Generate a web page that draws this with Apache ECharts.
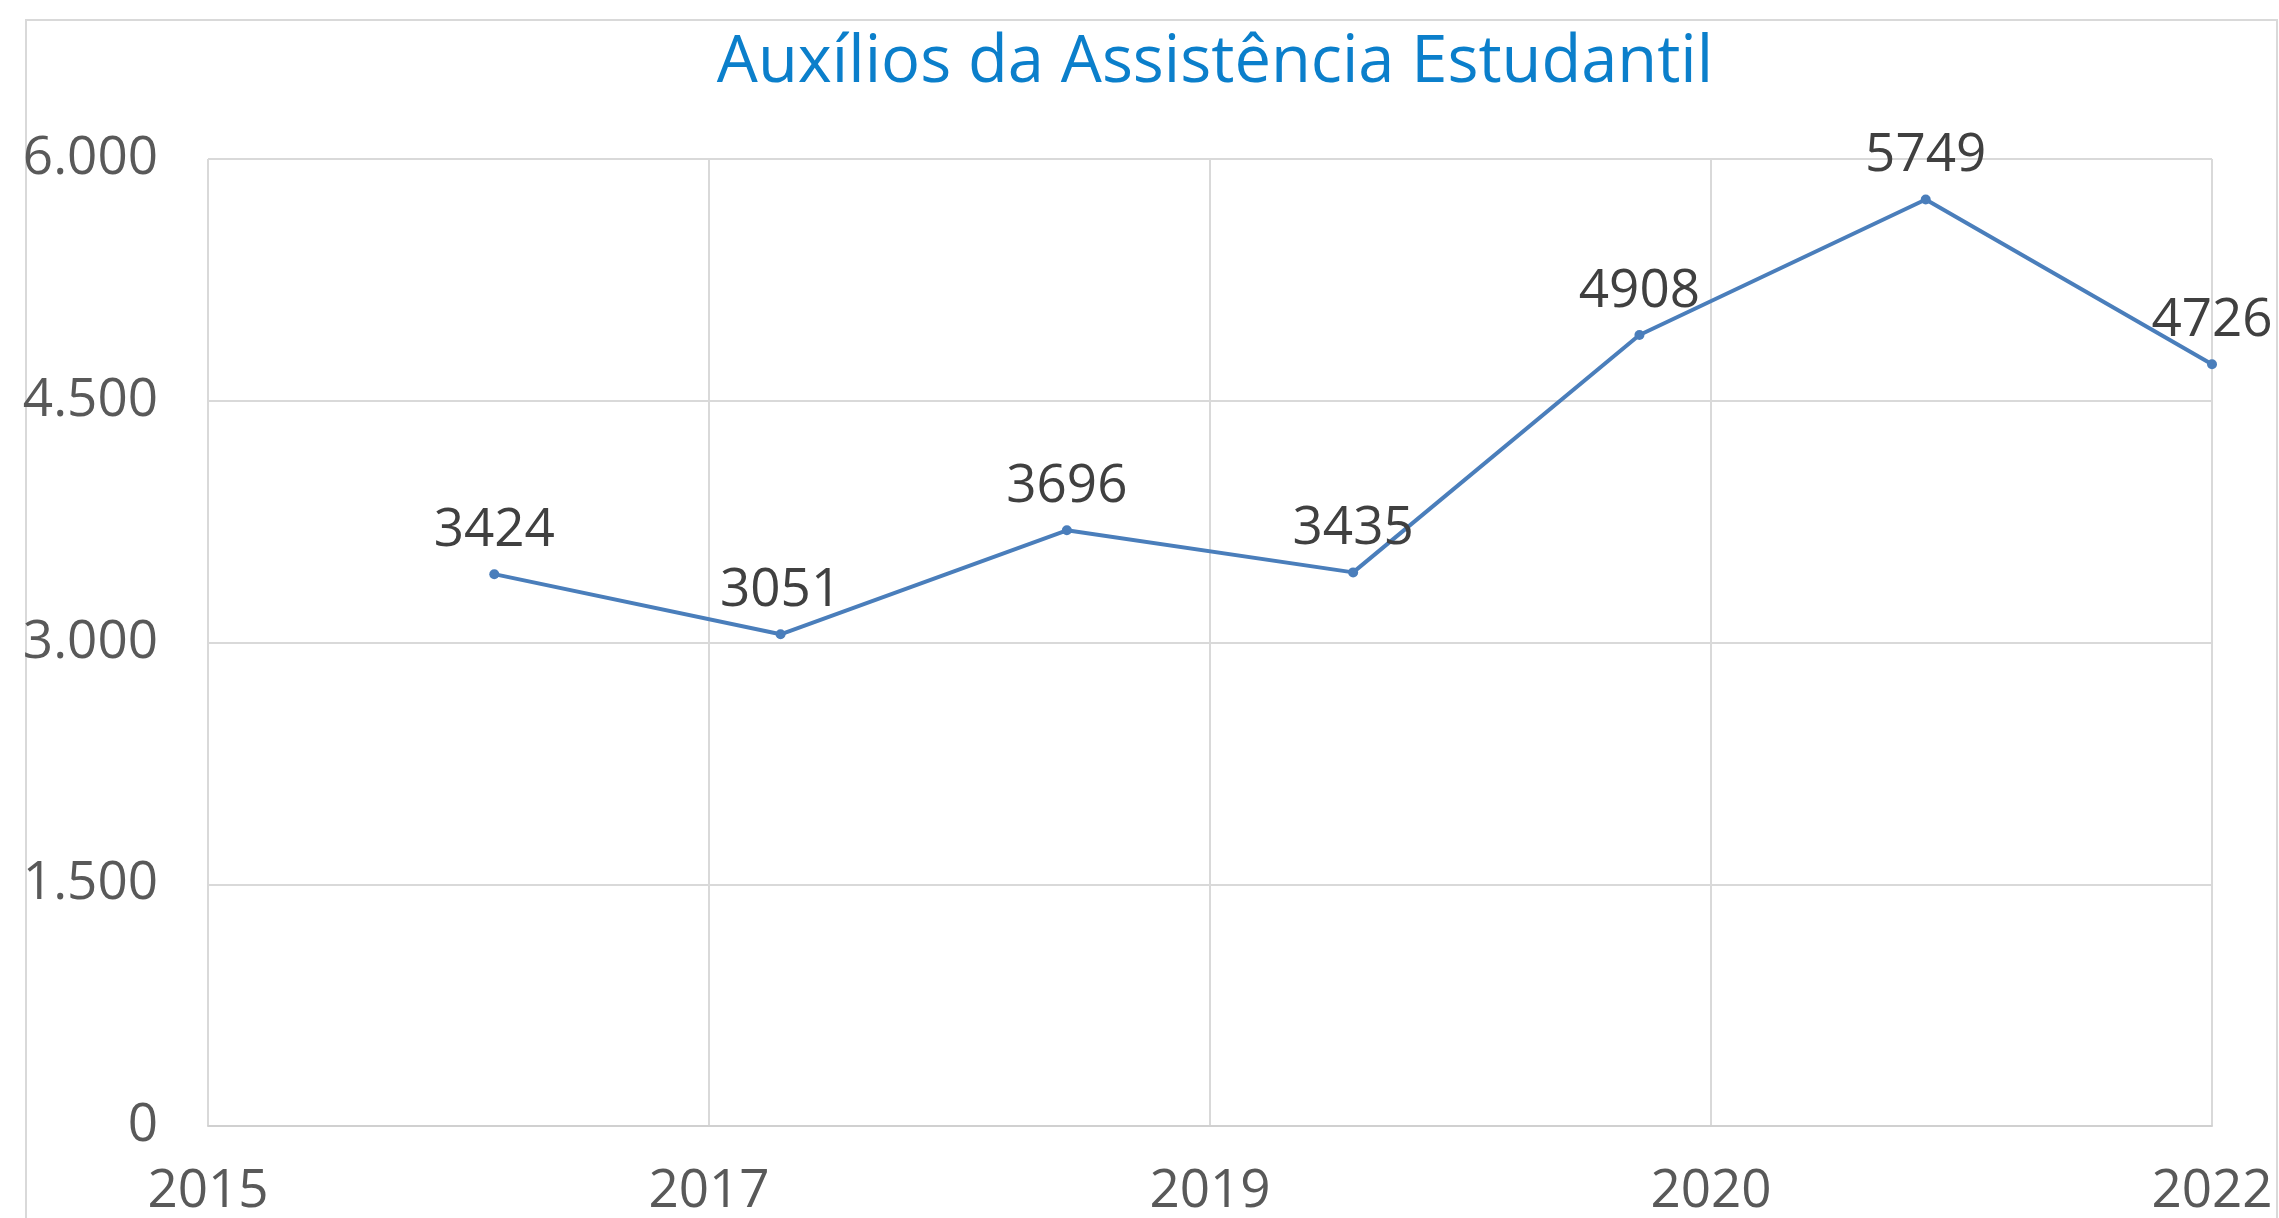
<!DOCTYPE html>
<html>
<head>
<meta charset="utf-8">
<script src="https://cdn.jsdelivr.net/npm/echarts@6/dist/echarts.min.js"></script>
<style>
  html, body { margin: 0; padding: 0; background: #fff; }
  #chart { width: 2279px; height: 1218px; }
</style>
</head>
<body>
<div id="chart"></div>
<script>
// chart data
var pointIndex = [1, 2, 3, 4, 5, 6, 7];
var auxilios = [3424, 3051, 3696, 3435, 4908, 5749, 4726];
var xTickLabels = ['2015', '2017', '2019', '2020', '2022'];
var yTicks = [0, 1500, 3000, 4500, 6000];

var font = '"Open Sans", "Noto Sans", sans-serif';
var gridColor = '#d9d9d9';

function thousands(v) {
  return String(v).replace(/\B(?=(\d{3})+(?!\d))/g, '.');
}

var chart = echarts.init(document.getElementById('chart'));

var seriesData = [];
for (var i = 0; i < auxilios.length; ++i) {
  seriesData.push([pointIndex[i], auxilios[i]]);
}

var option = {
  backgroundColor: '#ffffff',
  animation: false,
  title: {
    text: 'Auxílios da Assistência Estudantil',
    left: 1210,
    textAlign: 'center',
    top: 26,
    textStyle: {
      fontFamily: font,
      fontWeight: 'normal',
      fontSize: 65,
      color: '#0b7fcb'
    }
  },
  graphic: [{
    type: 'rect',
    shape: { x: 26, y: 20, width: 2251, height: 1240 },
    style: { fill: 'none', stroke: gridColor, lineWidth: 2 },
    silent: true,
    z: -1
  }],
  grid: {
    left: 208,
    right: 67,
    top: 159,
    bottom: 83,
    containLabel: false
  },
  xAxis: {
    type: 'value',
    min: 0,
    max: 7,
    interval: 1.75,
    axisLine: { show: true, lineStyle: { color: '#d0d0d0', width: 2 } },
    axisTick: { show: false },
    splitLine: { show: true, lineStyle: { color: gridColor, width: 2 } },
    axisLabel: {
      margin: 39,
      fontFamily: font,
      fontSize: 53,
      color: '#595959',
      showMinLabel: true,
      showMaxLabel: true,
      formatter: function (v) {
        var k = Math.round(v / 1.75);
        return xTickLabels[k] || '';
      }
    }
  },
  yAxis: {
    type: 'value',
    min: yTicks[0],
    max: yTicks[yTicks.length - 1],
    interval: yTicks[1] - yTicks[0],
    axisLine: { show: false },
    axisTick: { show: false },
    splitLine: { show: true, lineStyle: { color: gridColor, width: 2 } },
    axisLabel: {
      margin: 50,
      padding: [8, 0, 0, 0],
      fontFamily: font,
      fontSize: 53,
      color: '#595959',
      formatter: function (v) { return thousands(v); }
    }
  },
  series: [{
    name: 'Auxílios',
    type: 'line',
    data: seriesData,
    symbol: 'circle',
    symbolSize: 10,
    lineStyle: { color: '#4a7ebb', width: 4 },
    itemStyle: { color: '#4a7ebb' },
    label: {
      show: true,
      position: 'top',
      distance: 12,
      fontFamily: font,
      fontSize: 53,
      color: '#404040',
      formatter: function (p) { return p.value[1]; }
    }
  }]
};

chart.setOption(option);
</script>
</body>
</html>
